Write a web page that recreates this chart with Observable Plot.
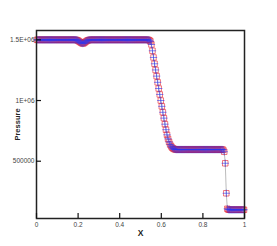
<!DOCTYPE html>
<html>
<head>
<meta charset="utf-8">
<script src="https://cdn.jsdelivr.net/npm/d3@7"></script>
<script src="https://cdn.jsdelivr.net/npm/@observablehq/plot@0.6"></script>
<style>
  html, body { margin: 0; padding: 0; background: #fff; }
  #chart svg { display: block; }
</style>
</head>
<body>
<div id="chart"></div>
<script>
// Mesh: 200 cells on [0,1]
const meshStart = 0.0025;
const meshStep = 0.005;
const meshCount = 200;

// Pressure (one value per mesh cell)
const pressure = [
  1500000,1500000,1500000,1500000,1500000,1500000,1500000,1500000,1500000,1500000,
  1500000,1500000,1500000,1500000,1500000,1500000,1500000,1500000,1500000,1500000,
  1500000,1500000,1500000,1500000,1500000,1500000,1500000,1500000,1500000,1500000,
  1500000,1500000,1500000,1500000,1500000,1500000,1500000,1500000,1499000,1496000,
  1490000,1484000,1478000,1473000,1470000,1473000,1479000,1486000,1492000,1496000,
  1499000,1500000,1500000,1500000,1500000,1500000,1500000,1500000,1500000,1500000,
  1500000,1500000,1500000,1500000,1500000,1500000,1500000,1500000,1500000,1500000,
  1500000,1500000,1500000,1500000,1500000,1500000,1500000,1500000,1500000,1500000,
  1500000,1500000,1500000,1500000,1500000,1500000,1500000,1500000,1500000,1500000,
  1500000,1500000,1500000,1500000,1500000,1500000,1500000,1500000,1500000,1500000,
  1500000,1500000,1500000,1500000,1500000,1500000,1500000,1500000,1497000,1488000,
  1462000,1410000,1355000,1303000,1252000,1201000,1150000,1099000,1050000,1000000,
  952000,903000,855000,805000,760000,718000,684000,658000,637000,622000,
  611000,604000,600000,597000,596000,596000,596000,596000,596000,596000,
  596000,596000,596000,596000,596000,596000,596000,596000,596000,596000,
  596000,596000,596000,596000,596000,596000,596000,596000,596000,596000,
  596000,596000,596000,596000,596000,596000,596000,596000,596000,596000,
  596000,596000,596000,596000,596000,596000,596000,596000,596000,594000,
  578000,483000,236000,108000,101000,100000,100000,100000,100000,100000,
  100000,100000,100000,100000,100000,100000,100000,100000,100000,100000
];

const xTicks = [0, 0.2, 0.4, 0.6, 0.8, 1];
const xTickLabels = ["0", "0.2", "0.4", "0.6", "0.8", "1"];
const yTicks = [500000, 1000000, 1500000];
const yTickLabels = ["500000", "1E+06", "1.5E+06"];

const data = pressure.map((p, i) => ({x: meshStart + i * meshStep, p}));

const chart = Plot.plot({
  width: 277,
  height: 246,
  marginLeft: 36,
  marginRight: 33,
  marginTop: 30,
  marginBottom: 28,
  style: {fontFamily: "'Liberation Sans', Arial, sans-serif", fontSize: "6.5px", color: "#333", background: "#fff"},
  x: {domain: [0, 1]},
  y: {domain: [28000, 1577000]},
  marks: [
    Plot.line(data, {x: "x", y: "p", stroke: "#aaa", strokeWidth: 0.8}),
    Plot.dot(data, {x: "x", y: "p", symbol: "square", r: 3.1, stroke: "#e8202c", strokeOpacity: 0.6, strokeWidth: 1, fill: "none"}),
    Plot.dot(data, {x: "x", y: "p", symbol: "plus", r: 2.5, stroke: "#2a35f0", strokeOpacity: 0.65, strokeWidth: 0.9}),
    Plot.frame({stroke: "#222", strokeWidth: 1.5}),
    // inward ticks
    Plot.axisX({ticks: xTicks, tickSize: 5, dy: -5, text: null, stroke: "#111", strokeWidth: 1.2, label: null}),
    Plot.axisX({ticks: xTicks, tickSize: 0, tickPadding: 4, tickFormat: (d, i) => xTickLabels[i], fill: "#444", label: null}),
    Plot.axisY({ticks: yTicks, tickSize: 5, dx: 5, text: null, stroke: "#111", strokeWidth: 1.2, label: null}),
    Plot.axisY({ticks: yTicks, tickSize: 0, tickPadding: 2, tickFormat: (d, i) => yTickLabels[i], fill: "#444", label: null}),
    Plot.text(["X"], {frameAnchor: "bottom", dy: 17, fontWeight: "bold", fontSize: 8.5, fill: "#222"}),
    Plot.text(["Pressure"], {frameAnchor: "left", dx: -19, rotate: -90, textAnchor: "middle", fontWeight: "bold", fontSize: 7.5, fill: "#222"})
  ]
});
document.getElementById("chart").appendChild(chart);
</script>
</body>
</html>
